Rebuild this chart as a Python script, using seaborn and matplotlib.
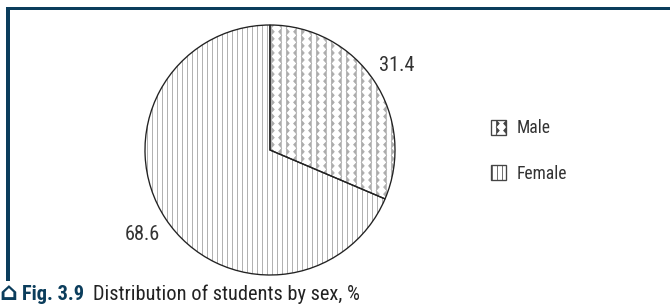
import warnings
import numpy as np
import matplotlib
matplotlib.use("Agg")
import matplotlib.pyplot as plt
import matplotlib.hatch as mhatch
from matplotlib.path import Path
from matplotlib.patches import Patch, Rectangle
from matplotlib import font_manager
import seaborn as sns

warnings.filterwarnings("ignore")

# data
categories = ["Male", "Female"]
shares = [31.4, 68.6]
caption_num = "Fig. 3.9"
caption_txt = "Distribution of students by sex, %"

hatches = ["z", "||||"]
hatch_colors = ["#ababab", "#999999"]
navy = "#0b3d5c"
W, H, DPI = 670, 306, 120


class ZigzagHatch(mhatch.HatchPatternBase):
    # vertical zigzag columns (mirrored in pairs) for the 'z' hatch letter
    def __init__(self, hatch, density):
        self.num_cols = hatch.count("z") * 16
        self.num_steps = 34
        self.num_vertices = self.num_cols * (self.num_steps + 1)

    def set_vertices_and_codes(self, vertices, codes):
        n = self.num_steps + 1
        amp = 0.026
        ys = np.linspace(0.0, 1.0, n)
        wiggle = np.where(np.arange(n) % 2 == 0, 0.0, amp)
        for i in range(self.num_cols):
            x0 = (i + 0.15) / self.num_cols
            xs = x0 + wiggle if i % 2 == 0 else x0 + amp - wiggle
            vertices[i * n:(i + 1) * n, 0] = xs
            vertices[i * n:(i + 1) * n, 1] = ys
            codes[i * n] = Path.MOVETO
            codes[i * n + 1:(i + 1) * n] = Path.LINETO


mhatch._hatch_types.append(ZigzagHatch)


def pick_font(names):
    for name in names:
        try:
            font_manager.findfont(name, fallback_to_default=False)
            return name
        except ValueError:
            pass
    return "DejaVu Sans"


sns.set_theme(style="white")
font = pick_font(["Liberation Sans Narrow", "Roboto Condensed", "Roboto"])
plt.rcParams["font.family"] = [font, "DejaVu Sans"]
plt.rcParams["hatch.linewidth"] = 0.45

fig = plt.figure(figsize=(W / DPI, H / DPI), dpi=DPI)
cx, cy, r = 270, 150, 125
ax = fig.add_axes([(cx - r) / W, (H - cy - r) / H, 2 * r / W, 2 * r / H])

wedges, texts = ax.pie(
    shares, labels=[f"{v:.1f}" for v in shares], startangle=90, counterclock=False,
    colors=["white"] * len(shares), hatch=hatches, labeldistance=1.22,
    wedgeprops=dict(linewidth=0),
    textprops=dict(fontsize=12.2, color="#333333"))
for w, c in zip(wedges, hatch_colors):
    w.set_edgecolor(c)  # hatch takes the edge colour; edge itself is 0 wide
# outlines on top, so the hatch can stay grey
ax.pie(shares, startangle=90, counterclock=False, colors=["none"] * len(shares),
       wedgeprops=dict(edgecolor="#222222", linewidth=0.8, fill=False))
for t in texts:
    t.set_ha("center")
    t.set_va("center")
ax.set_xlim(-1, 1)
ax.set_ylim(-1, 1)
ax.set_axis_off()

handles = [Patch(facecolor="white", edgecolor="#444444", hatch=h, linewidth=0.8) for h in hatches]
fig.legend(handles, categories, loc="center left", bbox_to_anchor=(491 / W, 1 - 151 / H),
           frameon=False, fontsize=10.5, handlelength=0.85, handleheight=0.95,
           handletextpad=0.6, labelspacing=1.55, borderpad=0, borderaxespad=0,
           labelcolor="#333333")

# frame
fig.add_artist(Rectangle((6 / W, 1 - 10 / H), (W - 6) / W, 3 / H,
                         transform=fig.transFigure, color=navy, lw=0))
fig.add_artist(Rectangle((6 / W, 1 - 281 / H), 4 / W, 274 / H,
                         transform=fig.transFigure, color=navy, lw=0))

# caption along the bottom edge
base = 1 - 300 / H
fig.text(-1 / W, base, "\u2302", color=navy, fontsize=15, fontweight="bold",
         va="baseline", family="DejaVu Sans")
fig.text(22 / W, base, caption_num, color=navy, fontsize=12.2, fontweight="bold", va="baseline")
fig.text(93 / W, base, caption_txt, color="#222222", fontsize=12.2, va="baseline")

fig.savefig("out.png", dpi=DPI)
